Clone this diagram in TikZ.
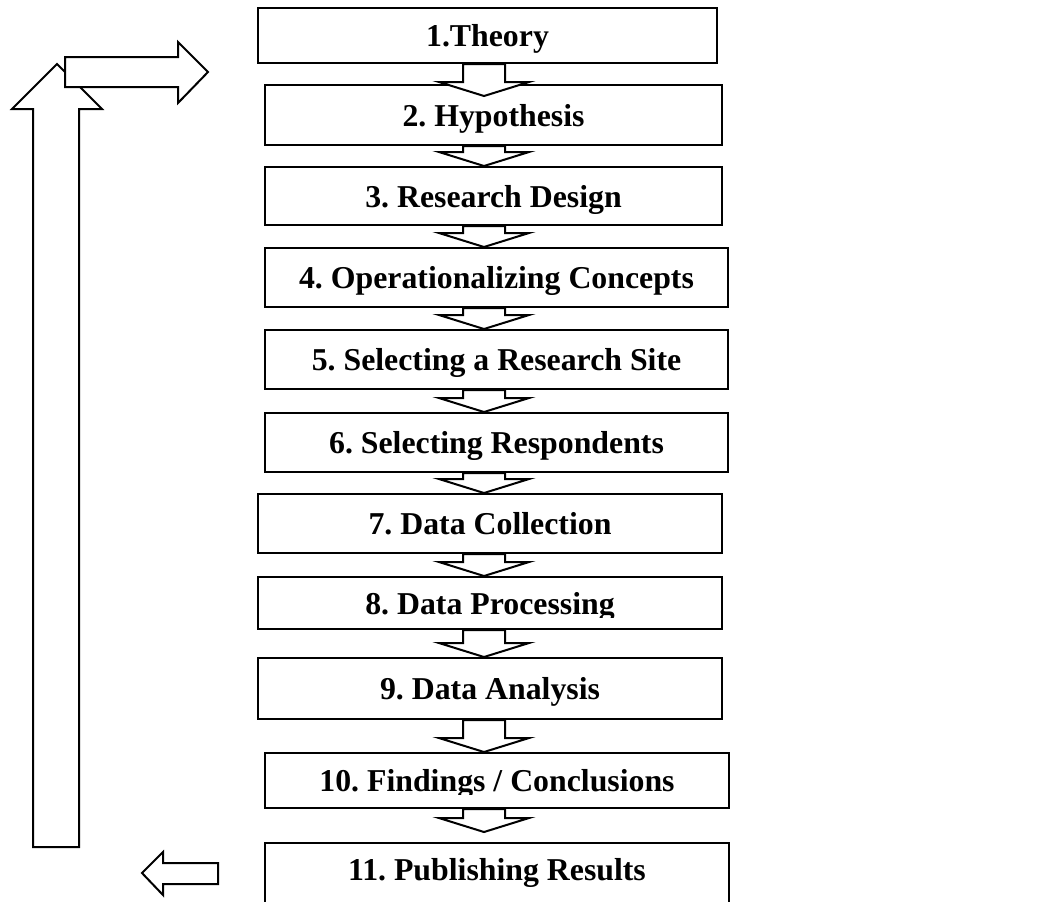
\documentclass[tikz,border=0pt]{standalone}
\usepackage{fontspec}
\setmainfont{Liberation Serif}
\usetikzlibrary{calc}
\frenchspacing

\tikzset{
  steptext/.style={font=\fontsize{15.9}{19}\selectfont\bfseries,
    inner sep=0pt,text height=13pt,text depth=2pt},
  stepbox/.style={steptext,draw,line width=1pt,fill=white},
  blockarrow/.style={draw,line width=1pt,fill=white,line join=miter}
}

\begin{document}
\begin{tikzpicture}[x=0.5pt,y=-0.5pt]
    \clip (0,0) rectangle (1048,901);
    % feedback loop on the left
    \draw[blockarrow] (33,847) -- (33,109) -- (12,109) -- (57,64)
      -- (102,109) -- (79,109) -- (79,847) -- cycle;
    \draw[blockarrow] (65,57) -- (178,57) -- (178,42) -- (208,72)
      -- (178,103) -- (178,87) -- (65,87) -- cycle;
    \draw[blockarrow] (218,863) -- (163,863) -- (163,852) -- (142,873)
      -- (163,895) -- (163,884) -- (218,884) -- cycle;
    % the steps
    \node[stepbox,minimum width=229.5pt,minimum height=27.5pt]
      (b1) at (487.5,35.5) {1.Theory};
    \node[stepbox,minimum width=228.5pt,minimum height=30pt]
      (b2) at (493.5,115) {2. Hypothesis};
    \node[stepbox,minimum width=228.5pt,minimum height=29pt]
      (b3) at (493.5,196) {3. Research Design};
    \node[stepbox,minimum width=231.5pt,minimum height=29.5pt]
      (b4) at (496.5,277.5) {4. Operationalizing Concepts};
    \node[stepbox,minimum width=231.5pt,minimum height=29.5pt]
      (b5) at (496.5,359.5) {5. Selecting a Research Site};
    \node[stepbox,minimum width=231.5pt,minimum height=29.5pt]
      (b6) at (496.5,442.5) {6. Selecting Respondents};
    \node[stepbox,minimum width=232pt,minimum height=29.5pt]
      (b7) at (490,523.5) {7. Data Collection};
    \node[stepbox,minimum width=232pt,minimum height=26pt]
      (b8) at (490,603) {};
    \node[stepbox,minimum width=232pt,minimum height=30.5pt]
      (b9) at (490,688.5) {9. Data Analysis};
    \node[stepbox,minimum width=232pt,minimum height=27.5pt]
      (b10) at (497,780.5) {};
    \node[stepbox,minimum width=232pt,minimum height=35pt,text depth=11pt]
      (b11) at (497,878) {11. Publishing Results};
    % text cut off below the baseline
    \begin{scope}
      \clip (b8.north west) rectangle ([yshift=-7pt]b8.east);
      \node[steptext] at (b8) {8. Data Processing};
    \end{scope}
    \begin{scope}
      \clip (b10.north west) rectangle ([yshift=-7pt]b10.east);
      \node[steptext] at (b10) {10. Findings / Conclusions};
    \end{scope}
    % block arrows between the steps
    \coordinate (axis) at (484,0);
    \foreach \a/\b/\d in {b1/b2/12,b2/b3/0,b3/b4/0,b4/b5/0,b5/b6/0,
                          b6/b7/0,b7/b8/0,b8/b9/0,b9/b10/0,b10/b11/-10}
      \draw[blockarrow] ($(axis |- \a.south)+(-21,0)$)
        -- ($(axis |- \b.north)+(-21,\d-14)$) -- ++(-24,0)
        -- ($(axis |- \b.north)+(0,\d)$) -- ++(45,-14) -- ++(-24,0)
        -- ($(axis |- \a.south)+(21,0)$) -- cycle;
\end{tikzpicture}
\end{document}
